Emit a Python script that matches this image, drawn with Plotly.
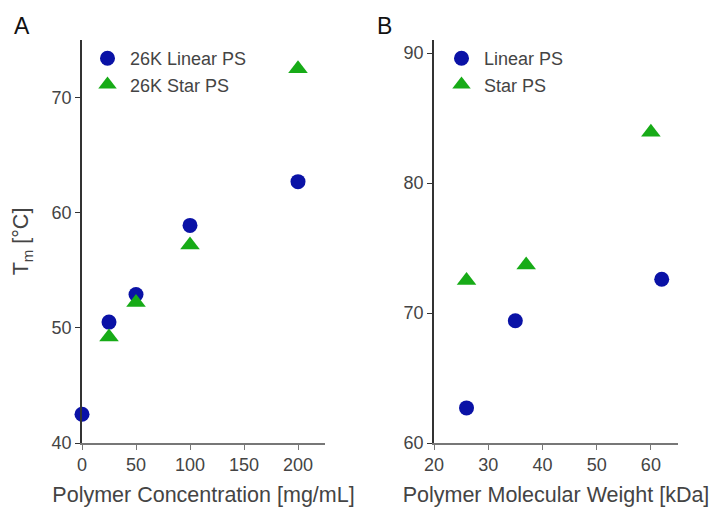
import plotly.graph_objects as go

# Panel A data
conc_linear = [0, 25, 50, 100, 200]
tm_linear_a = [42.5, 50.5, 52.9, 58.9, 62.7]
conc_star = [25, 50, 100, 200]
tm_star_a = [49.2, 52.2, 57.2, 72.5]

# Panel B data
mw_linear = [26, 35, 62]
tm_linear_b = [62.7, 69.4, 72.6]
mw_star = [26, 37, 60]
tm_star_b = [72.5, 73.7, 83.9]

BLUE = "#0a12a6"
GREEN = "#17ab17"
FONT = "Arial, Liberation Sans, sans-serif"
W, H = 716, 510

fig = go.Figure()
fig.add_trace(go.Scatter(x=conc_linear, y=tm_linear_a, mode="markers", name="26K Linear PS",
                         marker=dict(symbol="circle", size=15, color=BLUE),
                         xaxis="x", yaxis="y", legend="legend", cliponaxis=False))
fig.add_trace(go.Scatter(x=conc_star, y=tm_star_a, mode="markers", name="26K Star PS",
                         marker=dict(symbol="triangle-up", size=17, color=GREEN),
                         xaxis="x", yaxis="y", legend="legend", cliponaxis=False))
fig.add_trace(go.Scatter(x=mw_linear, y=tm_linear_b, mode="markers", name="Linear PS",
                         marker=dict(symbol="circle", size=15, color=BLUE),
                         xaxis="x2", yaxis="y2", legend="legend2", cliponaxis=False))
fig.add_trace(go.Scatter(x=mw_star, y=tm_star_b, mode="markers", name="Star PS",
                         marker=dict(symbol="triangle-up", size=17, color=GREEN),
                         xaxis="x2", yaxis="y2", legend="legend2", cliponaxis=False))

ytop, ybot = 1 - 40 / H, 1 - 443 / H
axcommon = dict(showline=True, linewidth=1.5, ticks="outside", ticklen=5, tickwidth=1.2,
                showgrid=False, zeroline=False, automargin=False,
                tickfont=dict(family=FONT, size=18, color="#444"),
                title_font=dict(family=FONT, size=21.5, color="#444"))

fig.update_layout(
    width=W, height=H,
    margin=dict(l=0, r=0, t=0, b=0),
    paper_bgcolor="white", plot_bgcolor="white",
    font=dict(family=FONT, color="#444"),
    xaxis=dict(domain=[82 / W, 325 / W], range=[0, 225], tickvals=[0, 50, 100, 150, 200],
               anchor="y", linecolor="#777", tickcolor="#777",
               title=dict(text="Polymer Concentration [mg/mL]", standoff=13), **axcommon),
    yaxis=dict(domain=[ybot, ytop], range=[40, 75], tickvals=[40, 50, 60, 70],
               anchor="x", linecolor="#333", tickcolor="#333",
               title=dict(text="T<sub>m</sub> [°C]", standoff=17), **axcommon),
    xaxis2=dict(domain=[434 / W, 678 / W], range=[20, 65], tickvals=[20, 30, 40, 50, 60],
                anchor="y2", linecolor="#777", tickcolor="#777",
                title=dict(text="Polymer Molecular Weight [kDa]", standoff=13), **axcommon),
    yaxis2=dict(domain=[ybot, ytop], range=[60, 91], tickvals=[60, 70, 80, 90],
                anchor="x2", linecolor="#333", tickcolor="#333", **axcommon),
    legend=dict(x=85 / W, y=1 - 40 / H, xanchor="left", yanchor="top", itemwidth=35,
                bgcolor="rgba(0,0,0,0)", font=dict(family=FONT, size=18, color="#444"),
                tracegroupgap=0, itemsizing="trace"),
    legend2=dict(x=439 / W, y=1 - 40 / H, xanchor="left", yanchor="top", itemwidth=35,
                 bgcolor="rgba(0,0,0,0)", font=dict(family=FONT, size=18, color="#444"),
                 tracegroupgap=0, itemsizing="trace"),
    annotations=[
        dict(text="A", x=12 / W, y=1 - 11 / H, xref="paper", yref="paper", xanchor="left",
             yanchor="top", showarrow=False, font=dict(family=FONT, size=23, color="#111")),
        dict(text="B", x=375 / W, y=1 - 11 / H, xref="paper", yref="paper", xanchor="left",
             yanchor="top", showarrow=False, font=dict(family=FONT, size=23, color="#111")),
    ],
)

fig.write_html("out.html")
